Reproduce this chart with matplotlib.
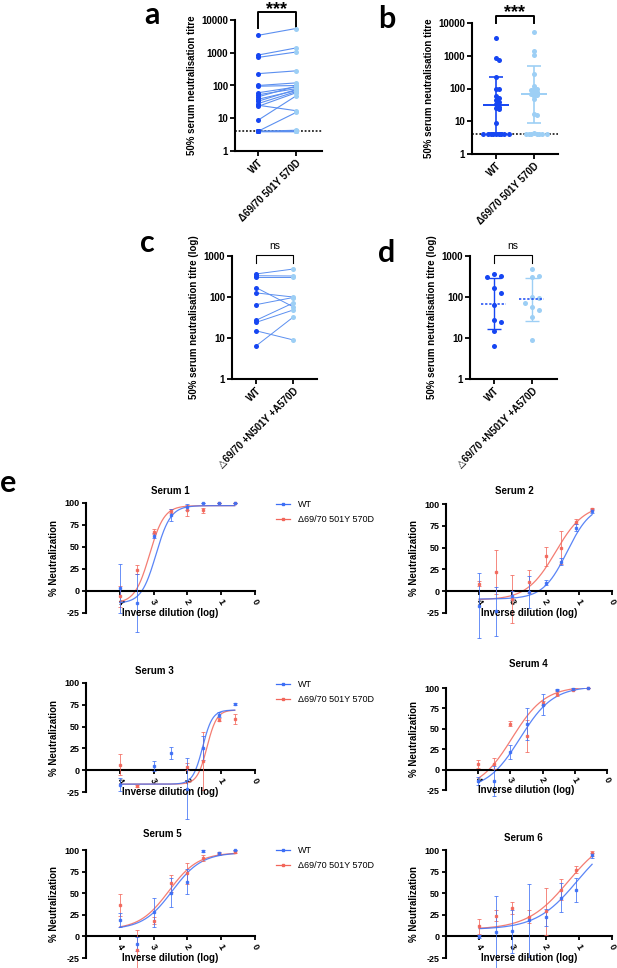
import numpy as np
import matplotlib
matplotlib.use('Agg')
import matplotlib.pyplot as plt
from matplotlib.lines import Line2D

plt.rcParams['font.family'] = ['Liberation Sans', 'DejaVu Sans']

# panels a / b : paired titres (24 sera)
wt_ab = [3400, 850, 720, 230, 100, 95, 60, 52, 45, 38, 33, 28, 25, 23, 8.7, 4, 4, 4, 4, 4, 4, 4, 4, 4]
var_ab = [5500, 1400, 1050, 280, 120, 100, 90, 80, 95, 70, 75, 65, 17, 60, 48, 15, 4.3, 4, 4, 4, 4, 4, 4, 4]
ab_labels = ['WT', 'Δ69/70 501Y 570D']
wt_ab_mid, wt_ab_lo, wt_ab_hi = 32, 4.5, 225
var_ab_mid, var_ab_lo, var_ab_hi = 68, 9, 475
cutoff = 4

# panels c / d : paired titres (10 sera)
wt_cd = [365, 330, 300, 170, 126, 65, 27, 24, 15, 6.4]
var_cd = [480, 325, 300, 58, 100, 97, 71, 48, 9, 32]
cd_labels = ['WT', '△69/70 +N501Y +A570D']
wt_cd_mid, wt_cd_lo, wt_cd_hi = 69, 16.5, 285
var_cd_mid, var_cd_lo, var_cd_hi = 88, 26.5, 285

# panel e : neutralisation curves
dil_x = [4.0, 3.5, 3.0, 2.5, 2.0, 1.55, 1.07, 0.6]
serum_titles = ['Serum 1', 'Serum 2', 'Serum 3', 'Serum 4', 'Serum 5', 'Serum 6']
wt_mean = [
    [3, -14, 63, 86.6, 95.4, 100, 100, 100],
    [-16.5, -23, -5, -1, 9.6, 34, 72.7, 92],
    [-16.4, np.nan, 5, 20, -21, 25.6, 63.7, 76.3],
    [-13.5, -14, 21.6, 56, 79.6, 98, 99, 100],
    [19, -9, 27.7, 50.8, 63.5, 98.8, 96, 100],
    [0, 4.6, 6, 18.5, 22, 45, 54, 94],
]
wt_sd = [
    [28, 33, 3, 7, 3, 0, 0, 0],
    [37, 28, 5, 18, 3, 4, 4, 2],
    [7, 0, 6, 7, 35, 14, 3, 1],
    [5, 18, 8, 20, 13, 1, 1, 0],
    [8, 8, 17, 17, 15, 1, 2, 0],
    [2, 42, 25, 42, 10, 17, 14, 3],
]
var_mean = [
    [-6, 24, 67.5, 91, 91.6, 91.6, 100, 100],
    [8.5, 22, -9, 11, 40, 50, 79.6, 94],
    [6.5, -18, np.nan, np.nan, 4, 10.7, 58, 59],
    [7.3, 7.3, 56.3, 41, 81.6, 93, 98, 100],
    [36.5, -15.4, 18, 61.5, 73, 90.8, 96, 97.7],
    [11.5, 24, 32.7, 23, 29, 54, 77, 96],
]
var_sd = [
    [12, 5, 3, 2, 6, 3, 0, 0],
    [3, 25, 28, 13.5, 11, 19, 3, 1],
    [12, 1, 0, 0, 4, 33, 2, 6],
    [5, 7, 3, 20, 3, 3, 1, 0],
    [13, 23, 4, 10, 12, 3, 1, 1],
    [9, 6, 7, 8, 27, 12, 4, 3],
]
# fitted 4PL parameters: bottom, top, logIC50, hill
wt_fit = [(-14, 97, 2.93, 2.0), (-9, 100, 1.35, 1.2), (-16, 69, 1.55, 3.0),
          (-25, 102, 2.7, 0.85), (8, 97, 2.45, 1.0), (8, 120, 1.05, 0.7)]
var_fit = [(-14, 97, 3.12, 2.0), (-10, 100, 1.7, 1.0), (-16, 69, 1.42, 3.0),
           (-25, 102, 2.95, 0.85), (8, 97, 2.55, 1.0), (8, 120, 1.31, 0.7)]
legend_labels = ['WT', 'Δ69/70 501Y 570D']

DARK = '#1646f2'
LIGHT = '#9dcff5'
PAIR = '#5b8ff0'
E_BLUE = '#3d6ff5'
E_RED = '#f2665a'

W, H = 617, 968
fig = plt.figure(figsize=(W / 100, H / 100), dpi=100)


def add_ax(x0, y0, x1, y1):
    return fig.add_axes([x0 / W, 1 - y1 / H, (x1 - x0) / W, (y1 - y0) / H])


def swarm(values, px_decade, unit_px, space):
    order = np.argsort(values)[::-1]
    placed = []
    offs = np.zeros(len(values))
    cands = [0.0]
    for j in range(1, 30):
        cands += [j * space, -j * space]
    for i in order:
        y = np.log10(values[i]) * px_decade
        for c in cands:
            if all((c - px) ** 2 + (y - py) ** 2 >= space ** 2 for px, py in placed):
                break
        placed.append((c, y))
        offs[i] = c / unit_px
    return offs


def style_log(ax, top, labels, xlim, ylabel):
    ax.set_yscale('log')
    ax.set_ylim(1, top)
    ticks = [10 ** k for k in range(int(np.log10(top)) + 1)]
    ax.set_yticks(ticks)
    ax.set_yticklabels([str(t) for t in ticks], fontsize=7, fontweight='bold')
    ax.minorticks_off()
    ax.set_xlim(*xlim)
    ax.set_xticks([0, 1])
    ax.set_xticklabels(labels, rotation=45, ha='right', va='top', rotation_mode='anchor',
                       fontsize=7, fontweight='bold')
    for s in ['top', 'right']:
        ax.spines[s].set_visible(False)
    for s in ['left', 'bottom']:
        ax.spines[s].set_linewidth(1.5)
    ax.tick_params(width=1.3, length=3.5, pad=1.5)
    ax.set_ylabel(ylabel, fontsize=7, fontweight='bold', labelpad=3)


def bracket(ax, y_arm, y_top, y_text, text, fs, bold, lw):
    ax.plot([0, 0, 1, 1], [y_arm, y_top, y_top, y_arm], color='black', lw=lw, clip_on=False)
    ax.text(0.5, y_text, text, ha='center', va='baseline', fontsize=fs,
            fontweight='bold' if bold else 'normal')


# ---- panel a
ax = add_ax(235, 20, 322, 151)
for w, v in zip(wt_ab, var_ab):
    ax.plot([0, 1], [w, v], color=PAIR, lw=0.8, zorder=2)
ax.scatter(np.zeros(len(wt_ab)), wt_ab, s=13, color=DARK, zorder=3, linewidths=0)
ax.scatter(np.ones(len(var_ab)), var_ab, s=13, color=LIGHT, zorder=3, linewidths=0)
ax.axhline(cutoff, color='black', ls=(0, (1.2, 1.2)), lw=1.1, zorder=1)
style_log(ax, 10000, ab_labels, (-0.605, 1.684), '50% serum neutralisation titre')
bracket(ax, 5700, 17500, 15000, '***', 13, True, 1.4)

# ---- panel b
ax = add_ax(472, 23, 558, 154)
off_w = swarm(wt_ab, 32.75, 38, 2.6)
off_v = swarm(var_ab, 32.75, 38, 2.6)
ax.scatter(off_w, wt_ab, s=13, color=DARK, zorder=3, linewidths=0)
ax.scatter(1 + off_v, var_ab, s=13, color=LIGHT, zorder=3, linewidths=0)
ax.axhline(cutoff, color='black', ls=(0, (1.2, 1.2)), lw=1.1, zorder=1)
for xc, mid, lo, hi, col in [(0, wt_ab_mid, wt_ab_lo, wt_ab_hi, DARK),
                             (1, var_ab_mid, var_ab_lo, var_ab_hi, LIGHT)]:
    ax.errorbar([xc], [mid], yerr=[[mid - lo], [hi - mid]], fmt='none', ecolor=col,
                elinewidth=1.2, capsize=4.7, capthick=1.2, zorder=4)
    ax.hlines(mid, xc - 0.33, xc + 0.33, color=col, lw=1.4, zorder=4)
style_log(ax, 10000, ab_labels, (-0.63, 1.63), '50% serum neutralisation titre')
bracket(ax, 10000, 16400, 15500, '***', 13, True, 1.4)

# ---- panel c
ax = add_ax(232, 256, 317, 379)
for w, v in zip(wt_cd, var_cd):
    ax.plot([0, 1], [w, v], color=PAIR, lw=0.7, zorder=2)
ax.scatter(np.zeros(len(wt_cd)), wt_cd, s=13, color=DARK, zorder=3, linewidths=0)
ax.scatter(np.ones(len(var_cd)), var_cd, s=13, color=LIGHT, zorder=3, linewidths=0)
style_log(ax, 1000, cd_labels, (-0.65, 1.65), '50% serum neutralisation titre (log)')
bracket(ax, 675, 1050, 1500, 'ns', 7.5, False, 0.8)

# ---- panel d
ax = add_ax(470, 256, 557, 379)
off_w = swarm(wt_cd, 41, 38, 7)
off_v = swarm(var_cd, 41, 38, 7)
ax.scatter(off_w, wt_cd, s=13, color=DARK, zorder=3, linewidths=0)
ax.scatter(1 + off_v, var_cd, s=13, color=LIGHT, zorder=3, linewidths=0)
for xc, mid, lo, hi, col in [(0, wt_cd_mid, wt_cd_lo, wt_cd_hi, DARK),
                             (1, var_cd_mid, var_cd_lo, var_cd_hi, LIGHT)]:
    ax.errorbar([xc], [mid], yerr=[[mid - lo], [hi - mid]], fmt='none', ecolor=col,
                elinewidth=1.0, capsize=4.7, capthick=1.0, zorder=2)
    ax.hlines(mid, xc - 0.33, xc + 0.33, color=DARK, lw=1.1, ls=(0, (1.5, 1.2)), zorder=4)
style_log(ax, 1000, cd_labels, (-0.63, 1.66), '50% serum neutralisation titre (log)')
bracket(ax, 675, 1050, 1500, 'ns', 7.5, False, 0.8)

# ---- panel e
boxes = [(86, 503, 255, 613), (446, 504, 612, 613), (86, 683, 255, 792),
         (446, 688, 607, 790), (86, 850, 255, 958), (446, 850, 612, 958)]
title_x = [170, 514, 154, 528, 162, 523]
title_pad = [6.5, 7, 6.5, 15, 9.4, 6.5]
legend_y = [500, None, 680, None, 846, None]


def logistic(x, bottom, top, x50, h):
    return bottom + (top - bottom) / (1 + 10 ** ((x - x50) * h))


xs = np.linspace(dil_x[0], dil_x[-1], 200)
for i in range(6):
    x0, y0, x1, y1 = boxes[i]
    ax = add_ax(x0, y0, x1, y1)
    ax.spines['bottom'].set_position(('data', 0))
    for mean, sd, fit, col in [(var_mean[i], var_sd[i], var_fit[i], E_RED),
                               (wt_mean[i], wt_sd[i], wt_fit[i], E_BLUE)]:
        eb = ax.errorbar(dil_x, mean, yerr=sd, fmt='s', ms=1.8, color=col, ecolor=col,
                         elinewidth=0.6, capsize=1.5, capthick=0.6, alpha=0.9, zorder=3)
        for art in eb.lines[0:1] + tuple(eb.lines[1]) + tuple(eb.lines[2]):
            art.set_clip_on(False)
        ax.plot(xs, logistic(xs, *fit), color=col, lw=0.9, alpha=0.85, zorder=2)
    ax.set_xlim(5, 0)
    ax.set_ylim(-25, 100)
    ax.set_yticks([-25, 0, 25, 50, 75, 100])
    ax.set_yticklabels(['-25', '0', '25', '50', '75', '100'], fontsize=6.5, fontweight='bold')
    ax.set_xticks([4, 3, 2, 1, 0])
    ax.set_xticklabels(['4', '3', '2', '1', '0'], fontsize=6.5, fontweight='bold',
                       rotation=-60, ha='center', va='top')
    for s in ['top', 'right']:
        ax.spines[s].set_visible(False)
    for s in ['left', 'bottom']:
        ax.spines[s].set_linewidth(1.5)
    ax.tick_params(width=1.3, length=3, pad=1.5)
    ax.set_ylabel('% Neutralization', fontsize=7, fontweight='bold', labelpad=4)
    ax.set_title(serum_titles[i], fontsize=7, fontweight='bold',
                 x=(title_x[i] - x0) / (x1 - x0), pad=title_pad[i])
    ax.text(0.5, -25, 'Inverse dilution (log)', transform=ax.get_yaxis_transform(),
            ha='center', va='center', fontsize=7, fontweight='bold')
    if legend_y[i] is not None:
        handles = [Line2D([], [], color=E_BLUE, marker='s', ms=1.8, lw=0.9),
                   Line2D([], [], color=E_RED, marker='s', ms=1.8, lw=0.9)]
        ax.legend(handles, legend_labels, loc='upper left', frameon=False, fontsize=6.5,
                  bbox_to_anchor=(276 / W, 1 - legend_y[i] / H), bbox_transform=fig.transFigure,
                  handlelength=1.6, handletextpad=0.8, labelspacing=0.7,
                  borderpad=0, borderaxespad=0)

# panel letters
for letter, (lx, ly) in zip('abcde', [(152, 15), (387, 19), (147, 243), (387, 253), (8, 483)]):
    fig.text(lx / W, 1 - ly / H, letter, fontsize=22, fontweight='bold', family='Lato',
             ha='center', va='center')

fig.savefig('out.png', dpi=100)
